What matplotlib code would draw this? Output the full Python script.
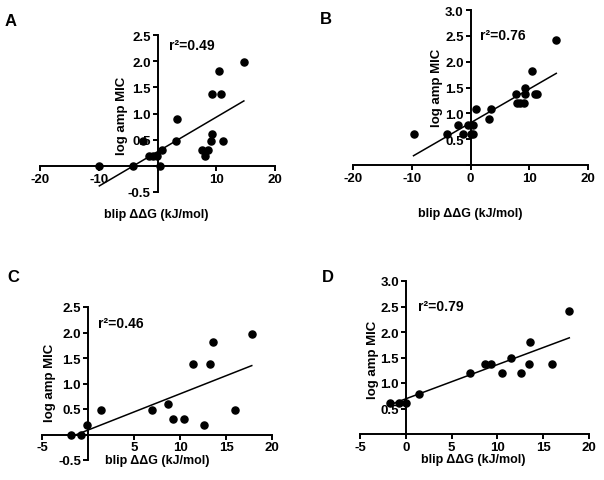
import numpy as np
import matplotlib
matplotlib.use("Agg")
import matplotlib.pyplot as plt

plt.rcParams['font.family'] = ['Liberation Sans', 'DejaVu Sans']
plt.rcParams['font.weight'] = 'bold'

W, H = 604, 481

# panel A: all mutants
a_x = [-9.9, -4.1, -2.4, -1.4, -0.7, -0.1, 0.4, 0.8, 3.1, 3.4, 7.5, 8.0, 8.6,
       9.1, 9.2, 9.2, 10.4, 10.8, 11.2, 14.7]
a_y = [0.0, 0.0, 0.48, 0.18, 0.18, 0.18, 0.0, 0.30, 0.48, 0.90, 0.30, 0.18, 0.30,
       0.48, 0.60, 1.38, 1.81, 1.38, 0.48, 1.98]

# panel B
b_x = [-9.7, -4.0, -2.2, -1.25, -0.5, 0.0, 0.45, 0.45, 0.9, 3.2, 3.5, 7.7, 7.95,
       8.5, 9.1, 9.3, 9.3, 10.45, 11.0, 11.3, 14.6]
b_y = [0.60, 0.60, 0.78, 0.60, 0.78, 0.60, 0.78, 0.60, 1.08, 0.90, 1.08, 1.38, 1.20,
       1.20, 1.20, 1.50, 1.38, 1.81, 1.38, 1.38, 2.41]

# panel C
c_x = [-1.8, -0.8, -0.1, 1.45, 7.0, 8.7, 9.25, 10.4, 11.45, 12.6, 13.3, 13.55, 16.0, 17.8]
c_y = [0.0, 0.0, 0.18, 0.48, 0.48, 0.60, 0.30, 0.30, 1.38, 0.18, 1.38, 1.81, 0.48, 1.98]

# panel D
d_x = [-1.75, -0.77, 0.0, 1.46, 7.0, 8.7, 9.3, 10.5, 11.5, 12.6, 13.4, 13.6, 16.0, 17.85]
d_y = [0.60, 0.60, 0.60, 0.79, 1.20, 1.38, 1.38, 1.20, 1.50, 1.20, 1.38, 1.81, 1.38, 2.41]

# linear fits (slope, intercept) and r^2 as printed
fits = [(0.066, 0.27), (0.0656, 0.816), (0.071, 0.087), (0.067, 0.69)]
r2 = ['0.49', '0.76', '0.46', '0.79']
letters = ['A', 'B', 'C', 'D']

xlims = [(-20, 20), (-20, 20), (-5, 20), (-5, 20)]
ylims = [(-0.5, 2.5), (0, 3), (-0.5, 2.5), (0, 3)]
xticks = [[-20, -10, 0, 10, 20], [-20, -10, 0, 10, 20],
          [-5, 0, 5, 10, 15, 20], [-5, 0, 5, 10, 15, 20]]
yticks = [[-0.5, 0, 0.5, 1.0, 1.5, 2.0, 2.5], [0, 0.5, 1.0, 1.5, 2.0, 2.5, 3.0],
          [-0.5, 0, 0.5, 1.0, 1.5, 2.0, 2.5], [0, 0.5, 1.0, 1.5, 2.0, 2.5, 3.0]]

# pixel boxes of the axes: left, right, top, bottom
boxes = [(40, 275, 36, 193), (353, 588, 11, 166), (42, 272, 308, 461), (360, 589, 282, 435)]
letter_pos = [(5, 22), (320, 20), (7, 278), (322, 278)]
r2_pos = [(169, 46), (480, 36), (98, 324), (418, 307)]
ylab_pos = [(122, 116), (437, 88), (50, 383), (373, 360)]
xlab_pos = [(156, 215), (470, 214), (157, 461), (473, 460)]

data = [(a_x, a_y), (b_x, b_y), (c_x, c_y), (d_x, d_y)]

fig = plt.figure(figsize=(W / 100, H / 100), dpi=100)


def fx(px):
    return px / W


def fy(py):
    return 1 - py / H


for i in range(4):
    l, r, t, b = boxes[i]
    ax = fig.add_axes([fx(l), fy(b), fx(r) - fx(l), fy(t) - fy(b)])
    ax.patch.set_alpha(0)
    ax.set_xlim(xlims[i])
    ax.set_ylim(ylims[i])
    for s in ['top', 'right']:
        ax.spines[s].set_visible(False)
    ax.spines['left'].set_position(('data', 0))
    ax.spines['bottom'].set_position(('data', 0))
    ax.spines['left'].set_linewidth(1.4)
    ax.spines['bottom'].set_linewidth(1.4)

    ax.set_xticks(xticks[i])
    ax.set_yticks(yticks[i])
    # GraphPad leaves out the label where the other axis crosses
    xl = [str(v) for v in xticks[i]]
    if ylims[i][0] < 0:
        xl = ['' if v == 0 else s for v, s in zip(xticks[i], xl)]
    ax.set_xticklabels(xl)
    ax.set_yticklabels(['' if v == 0 else '%.1f' % v for v in yticks[i]])
    ax.tick_params(direction='out', length=3.5, width=1.4, labelsize=9.5, pad=1.5)
    for lab in ax.get_xticklabels() + ax.get_yticklabels():
        lab.set_fontweight('bold')

    x, y = data[i]
    ax.scatter(x, y, s=26, color='black', zorder=3, clip_on=False)
    k, c = fits[i]
    xs = np.array([min(x), max(x)])
    ax.plot(xs, k * xs + c, color='black', lw=1.1, zorder=3, clip_on=False)

    fig.text(fx(letter_pos[i][0]), fy(letter_pos[i][1]), letters[i],
             fontsize=12, fontweight='bold', va='center', ha='left')
    fig.text(fx(r2_pos[i][0]), fy(r2_pos[i][1]), 'r\u00b2=' + r2[i],
             fontsize=10, fontweight='bold', va='center', ha='left')
    fig.text(fx(ylab_pos[i][0]), fy(ylab_pos[i][1]), 'log amp MIC', rotation=90,
             fontsize=9.5, fontweight='bold', va='center', ha='center')
    fig.text(fx(xlab_pos[i][0]), fy(xlab_pos[i][1]), 'blip \u0394\u0394G (kJ/mol)',
             fontsize=9, fontweight='bold', va='center', ha='center')

fig.savefig('out.png', dpi=100, facecolor='white')
